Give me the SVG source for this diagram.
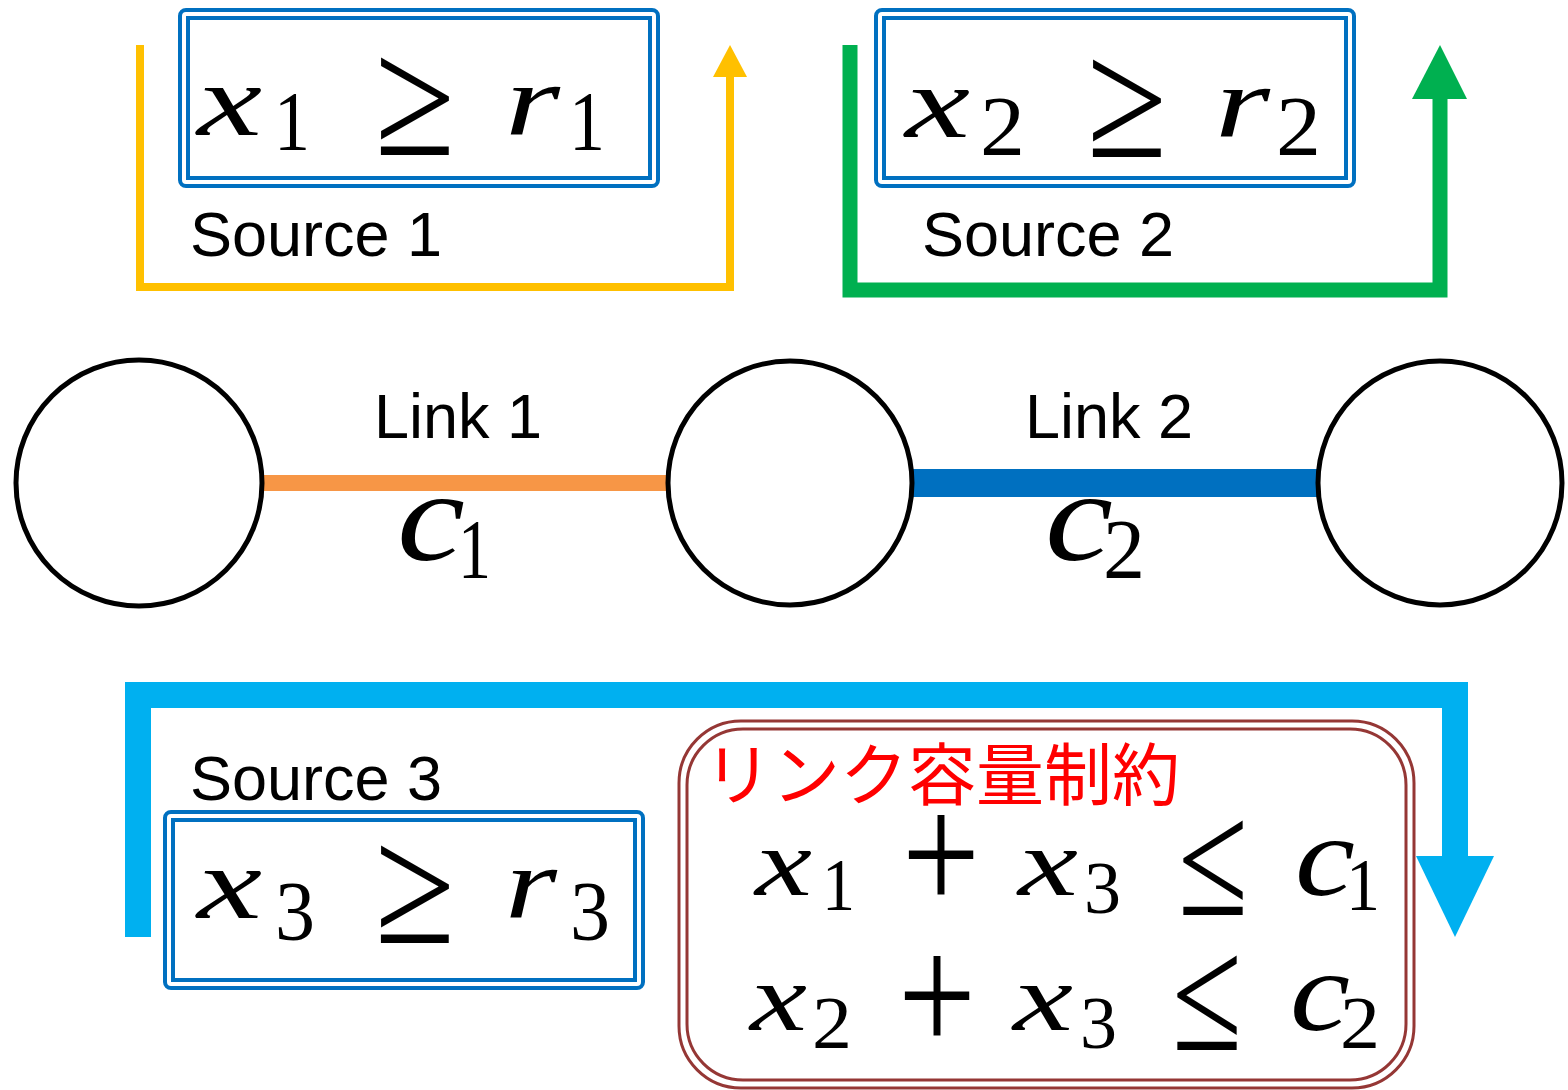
<svg xmlns="http://www.w3.org/2000/svg" width="1568" height="1090" viewBox="0 0 1568 1090">
<defs>
<style>
.lbl{font-family:"Liberation Sans",Arial,sans-serif;font-size:63px;fill:#000}
.mi{font-family:"Liberation Serif","Times New Roman",serif;font-style:italic;fill:#000}
.mn{font-family:"Liberation Serif","Times New Roman",serif;font-style:normal;fill:#000}
.bo{fill:#fff;stroke:#0070C0;stroke-width:4}
.bi{fill:none;stroke:#0070C0;stroke-width:4}
.node{fill:#fff;stroke:#000;stroke-width:5}
.jp{font-family:"Noto Sans CJK JP",sans-serif;font-size:68px;fill:#FF0000;font-style:normal}
</style>
</defs>
<rect width="1568" height="1090" fill="#fff"/>
<g id="connectors">
<polyline points="140,45 140,287 730,287 730,75" fill="none" stroke="#FFC000" stroke-width="8"/>
<polygon points="713,77 747,77 730,45" fill="#FFC000"/>
<polyline points="850,45 850,290 1440,290 1440,96" fill="none" stroke="#00B050" stroke-width="15"/>
<polygon points="1412,99 1467,99 1440,45" fill="#00B050"/>
<polyline points="138,937 138,695 1455,695 1455,858" fill="none" stroke="#00B0F0" stroke-width="26"/>
<polygon points="1416,856 1494,856 1455,937" fill="#00B0F0"/>
<line id="link1" x1="262" y1="483" x2="668" y2="483" stroke="#F79646" stroke-width="16"/>
<line id="link2" x1="910" y1="483" x2="1318" y2="483" stroke="#0070C0" stroke-width="28"/>
</g>
<g id="node1"><circle class="node" cx="139" cy="483" r="123"/></g>
<g id="node2"><circle class="node" cx="790" cy="483" r="122"/></g>
<g id="node3"><circle class="node" cx="1440" cy="483" r="122"/></g>
<g id="link1-label">
<text class="lbl" x="374" y="438">Link 1</text>
<text class="mi" x="397" y="560" font-size="130" textLength="68" lengthAdjust="spacingAndGlyphs">c</text>
<text class="mn" x="458" y="578" font-size="85" textLength="33" lengthAdjust="spacingAndGlyphs">1</text>
</g>
<g id="link2-label">
<text class="lbl" x="1025" y="438">Link 2</text>
<text class="mi" x="1045" y="560" font-size="130" textLength="68" lengthAdjust="spacingAndGlyphs">c</text>
<text class="mn" x="1103" y="578" font-size="85" textLength="42" lengthAdjust="spacingAndGlyphs">2</text>
</g>
<g id="source1">
<rect class="bo" x="180" y="10" width="478" height="176" rx="6"/>
<rect class="bi" x="188" y="18" width="462" height="160"/>
<text class="mi" x="197" y="135" font-size="102" textLength="65" lengthAdjust="spacingAndGlyphs">x</text>
<text class="mn" x="274" y="150" font-size="85" textLength="36" lengthAdjust="spacingAndGlyphs">1</text>
<text class="mn" x="375" y="155" font-size="170" textLength="80" lengthAdjust="spacingAndGlyphs">≥</text>
<text class="mi" x="505" y="135" font-size="102" textLength="55" lengthAdjust="spacingAndGlyphs">r</text>
<text class="mn" x="569" y="150" font-size="85" textLength="36" lengthAdjust="spacingAndGlyphs">1</text>
<text class="lbl" x="190" y="256">Source 1</text>
</g>
<g id="source2">
<rect class="bo" x="876" y="10" width="478" height="176" rx="6"/>
<rect class="bi" x="884" y="18" width="462" height="160"/>
<text class="mi" x="905" y="137" font-size="102" textLength="65" lengthAdjust="spacingAndGlyphs">x</text>
<text class="mn" x="980" y="155" font-size="85" textLength="45" lengthAdjust="spacingAndGlyphs">2</text>
<text class="mn" x="1087" y="157" font-size="170" textLength="80" lengthAdjust="spacingAndGlyphs">≥</text>
<text class="mi" x="1215" y="137" font-size="102" textLength="55" lengthAdjust="spacingAndGlyphs">r</text>
<text class="mn" x="1276" y="155" font-size="85" textLength="45" lengthAdjust="spacingAndGlyphs">2</text>
<text class="lbl" x="922" y="256">Source 2</text>
</g>
<g id="source3">
<text class="lbl" x="190" y="800">Source 3</text>
<rect class="bo" x="165" y="812" width="478" height="176" rx="6"/>
<rect class="bi" x="173" y="820" width="462" height="160"/>
<text class="mi" x="197" y="918" font-size="102" textLength="65" lengthAdjust="spacingAndGlyphs">x</text>
<text class="mn" x="275" y="940" font-size="85" textLength="40" lengthAdjust="spacingAndGlyphs">3</text>
<text class="mn" x="375" y="943" font-size="170" textLength="80" lengthAdjust="spacingAndGlyphs">≥</text>
<text class="mi" x="505" y="918" font-size="102" textLength="52" lengthAdjust="spacingAndGlyphs">r</text>
<text class="mn" x="570" y="940" font-size="85" textLength="40" lengthAdjust="spacingAndGlyphs">3</text>
</g>
<g id="constraints">
<rect x="679" y="721" width="735" height="367" rx="62" fill="#fff" stroke="#953735" stroke-width="3"/>
<rect x="687" y="729" width="719" height="351" rx="56" fill="none" stroke="#953735" stroke-width="3"/>
<text class="mn"><tspan class="jp" x="704" y="800">リンク容量制約</tspan><tspan class="mi" x="755" y="895" font-size="95" textLength="57" lengthAdjust="spacingAndGlyphs">x</tspan><tspan x="822" y="910" font-size="75" textLength="33" lengthAdjust="spacingAndGlyphs">1</tspan><tspan x="902" y="911" font-size="170" textLength="78" lengthAdjust="spacingAndGlyphs">+</tspan><tspan class="mi" x="1018" y="895" font-size="95" textLength="60" lengthAdjust="spacingAndGlyphs">x</tspan><tspan x="1084" y="913" font-size="75" textLength="37" lengthAdjust="spacingAndGlyphs">3</tspan><tspan x="1178" y="915" font-size="165" textLength="70" lengthAdjust="spacingAndGlyphs">≤</tspan><tspan class="mi" x="1295" y="895" font-size="115" textLength="60" lengthAdjust="spacingAndGlyphs">c</tspan><tspan x="1346" y="910" font-size="75" textLength="34" lengthAdjust="spacingAndGlyphs">1</tspan><tspan class="mi" x="750" y="1030" font-size="95" textLength="57" lengthAdjust="spacingAndGlyphs">x</tspan><tspan x="812" y="1048" font-size="75" textLength="40" lengthAdjust="spacingAndGlyphs">2</tspan><tspan x="898" y="1052" font-size="170" textLength="78" lengthAdjust="spacingAndGlyphs">+</tspan><tspan class="mi" x="1013" y="1030" font-size="95" textLength="60" lengthAdjust="spacingAndGlyphs">x</tspan><tspan x="1080" y="1048" font-size="75" textLength="37" lengthAdjust="spacingAndGlyphs">3</tspan><tspan x="1172" y="1050" font-size="165" textLength="70" lengthAdjust="spacingAndGlyphs">≤</tspan><tspan class="mi" x="1290" y="1030" font-size="115" textLength="60" lengthAdjust="spacingAndGlyphs">c</tspan><tspan x="1340" y="1048" font-size="75" textLength="40" lengthAdjust="spacingAndGlyphs">2</tspan></text>
</g>
</svg>
